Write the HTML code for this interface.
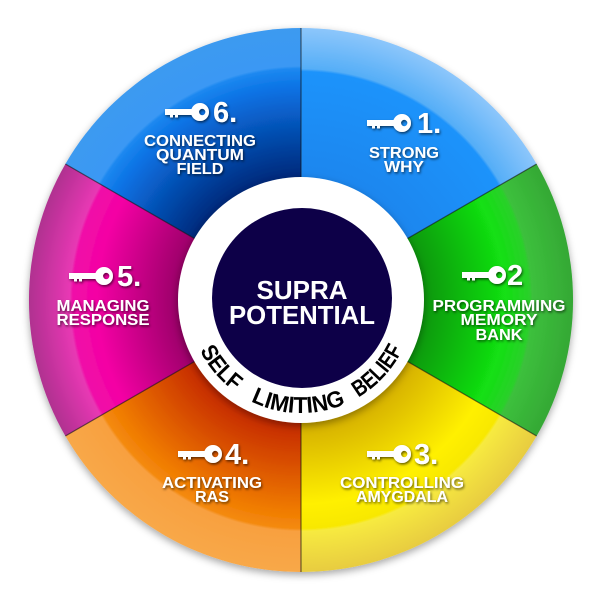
<!DOCTYPE html>
<html><head><meta charset="utf-8"><style>
html,body{margin:0;padding:0;background:#fff;}
svg{display:block;}
.lb{font-family:"Liberation Sans",sans-serif;font-weight:bold;fill:#fff;font-size:15.5px;text-anchor:middle;}
.nm{font-family:"Liberation Sans",sans-serif;font-weight:bold;fill:#fff;font-size:29px;}
.cv{font-family:"Liberation Sans",sans-serif;font-weight:bold;font-size:23px;fill:#000;}
</style></head><body>
<svg width="600" height="600" viewBox="0 0 600 600" xmlns="http://www.w3.org/2000/svg">
<defs>
<filter id="sh" x="-20%" y="-20%" width="140%" height="140%"><feDropShadow dx="1" dy="1.5" stdDeviation="1.2" flood-color="#000" flood-opacity="0.6"/></filter>
<filter id="ws" x="-10%" y="-10%" width="120%" height="120%"><feDropShadow dx="0" dy="3" stdDeviation="4" flood-color="#000" flood-opacity="0.35"/></filter>
<radialGradient id="g1" gradientUnits="userSpaceOnUse" cx="301" cy="300" r="272"><stop offset="0.45" stop-color="#1c86ee"/><stop offset="0.84" stop-color="#1e93fb"/><stop offset="0.85" stop-color="#55aef7"/><stop offset="1" stop-color="#8cc6fb"/></radialGradient>
<radialGradient id="g2" gradientUnits="userSpaceOnUse" cx="301" cy="300" r="272"><stop offset="0.45" stop-color="#089608"/><stop offset="0.75" stop-color="#12e012"/><stop offset="0.84" stop-color="#2ad02a"/><stop offset="0.85" stop-color="#3cc03c"/><stop offset="1" stop-color="#35a835"/></radialGradient>
<radialGradient id="g3" gradientUnits="userSpaceOnUse" cx="301" cy="300" r="272"><stop offset="0.45" stop-color="#d4ae00"/><stop offset="0.75" stop-color="#fff000"/><stop offset="0.84" stop-color="#f8e800"/><stop offset="0.85" stop-color="#f7ea40"/><stop offset="1" stop-color="#e8cc40"/></radialGradient>
<radialGradient id="g4" gradientUnits="userSpaceOnUse" cx="301" cy="300" r="272"><stop offset="0.45" stop-color="#c42800"/><stop offset="0.78" stop-color="#f07c00"/><stop offset="0.84" stop-color="#f48a10"/><stop offset="0.85" stop-color="#f8a040"/><stop offset="1" stop-color="#f8a848"/></radialGradient>
<radialGradient id="g5" gradientUnits="userSpaceOnUse" cx="301" cy="300" r="272"><stop offset="0.45" stop-color="#9a0068"/><stop offset="0.75" stop-color="#f400a4"/><stop offset="0.84" stop-color="#f010a8"/><stop offset="0.85" stop-color="#e838b4"/><stop offset="1" stop-color="#b03090"/></radialGradient>
<radialGradient id="g6" gradientUnits="userSpaceOnUse" cx="301" cy="300" r="272"><stop offset="0.45" stop-color="#00287a"/><stop offset="0.78" stop-color="#0a72e4"/><stop offset="0.85" stop-color="#1c88f0"/><stop offset="0.86" stop-color="#3a98f4"/><stop offset="1" stop-color="#3c9af0"/></radialGradient>
<g id="key"><path d="M0,-3 H28 V3 H13 V5.5 H10 V3 H8 V5.5 H5 V3 H0 Z"/><path fill-rule="evenodd" d="M26,0 a9,9 0 1,0 18,0 a9,9 0 1,0 -18,0 Z M34,0 a3.2,3.2 0 1,0 6.4,0 a3.2,3.2 0 1,0 -6.4,0 Z"/></g>
<path id="arc" d="M198.6,347.8 A113,113 0 0,0 403.4,347.8"/>
</defs>
<g filter="url(#ws)">
<path d="M301,300 L301,28 A272,272 0 0,1 536.6,164 Z" fill="url(#g1)"/>
<path d="M301,300 L536.6,164 A272,272 0 0,1 536.6,436 Z" fill="url(#g2)"/>
<path d="M301,300 L536.6,436 A272,272 0 0,1 301,572 Z" fill="url(#g3)"/>
<path d="M301,300 L301,572 A272,272 0 0,1 65.4,436 Z" fill="url(#g4)"/>
<path d="M301,300 L65.4,436 A272,272 0 0,1 65.4,164 Z" fill="url(#g5)"/>
<path d="M301,300 L65.4,164 A272,272 0 0,1 301,28 Z" fill="url(#g6)"/>
</g>
<g stroke="#111" stroke-opacity="0.6" stroke-width="1.2">
<line x1="301" y1="300" x2="301" y2="28"/><line x1="301" y1="300" x2="536.6" y2="164"/><line x1="301" y1="300" x2="536.6" y2="436"/><line x1="301" y1="300" x2="301" y2="572"/><line x1="301" y1="300" x2="65.4" y2="436"/><line x1="301" y1="300" x2="65.4" y2="164"/>
</g>
<circle cx="301" cy="300" r="123" fill="#fff" filter="url(#ws)"/>
<circle cx="302" cy="298" r="90" fill="#0d0048"/>
<text font-family="Liberation Sans,sans-serif" font-weight="bold" font-size="26" fill="#fff" text-anchor="middle"><tspan x="302" y="299">SUPRA</tspan><tspan x="302" y="324" textLength="146" lengthAdjust="spacingAndGlyphs">POTENTIAL</tspan></text>
<text class="cv"><textPath href="#arc" startOffset="3" textLength="54" lengthAdjust="spacingAndGlyphs">SELF</textPath></text>
<text class="cv"><textPath href="#arc" startOffset="76" textLength="98" lengthAdjust="spacingAndGlyphs">LIMITING</textPath></text>
<text class="cv"><textPath href="#arc" startOffset="188" textLength="66" lengthAdjust="spacingAndGlyphs">BELIEF</textPath></text>
<g fill="#fff" filter="url(#sh)">
<use href="#key" x="165" y="112"/><text class="nm" x="213" y="122">6.</text>
<use href="#key" x="367" y="123"/><text class="nm" x="417" y="133">1.</text>
<use href="#key" x="462" y="275"/><text class="nm" x="507" y="285">2</text>
<use href="#key" x="367" y="454"/><text class="nm" x="414" y="464">3.</text>
<use href="#key" x="178" y="454"/><text class="nm" x="225" y="464">4.</text>
<use href="#key" x="69" y="276"/><text class="nm" x="117" y="286">5.</text>
<text class="lb"><tspan x="200" y="146" textLength="112" lengthAdjust="spacingAndGlyphs">CONNECTING</tspan><tspan x="200" y="160" textLength="88" lengthAdjust="spacingAndGlyphs">QUANTUM</tspan><tspan x="200" y="174" textLength="47" lengthAdjust="spacingAndGlyphs">FIELD</tspan></text>
<text class="lb"><tspan x="404" y="158" textLength="70" lengthAdjust="spacingAndGlyphs">STRONG</tspan><tspan x="404" y="172" textLength="40" lengthAdjust="spacingAndGlyphs">WHY</tspan></text>
<text class="lb"><tspan x="499" y="311" textLength="133" lengthAdjust="spacingAndGlyphs">PROGRAMMING</tspan><tspan x="499" y="325" textLength="77" lengthAdjust="spacingAndGlyphs">MEMORY</tspan><tspan x="499" y="340" textLength="47" lengthAdjust="spacingAndGlyphs">BANK</tspan></text>
<text class="lb"><tspan x="402" y="488" textLength="124" lengthAdjust="spacingAndGlyphs">CONTROLLING</tspan><tspan x="402" y="502" textLength="92" lengthAdjust="spacingAndGlyphs">AMYGDALA</tspan></text>
<text class="lb"><tspan x="212" y="488" textLength="100" lengthAdjust="spacingAndGlyphs">ACTIVATING</tspan><tspan x="212" y="502" textLength="34" lengthAdjust="spacingAndGlyphs">RAS</tspan></text>
<text class="lb"><tspan x="103" y="311" textLength="93" lengthAdjust="spacingAndGlyphs">MANAGING</tspan><tspan x="103" y="325" textLength="93" lengthAdjust="spacingAndGlyphs">RESPONSE</tspan></text>
</g>
</svg>
</body></html>
